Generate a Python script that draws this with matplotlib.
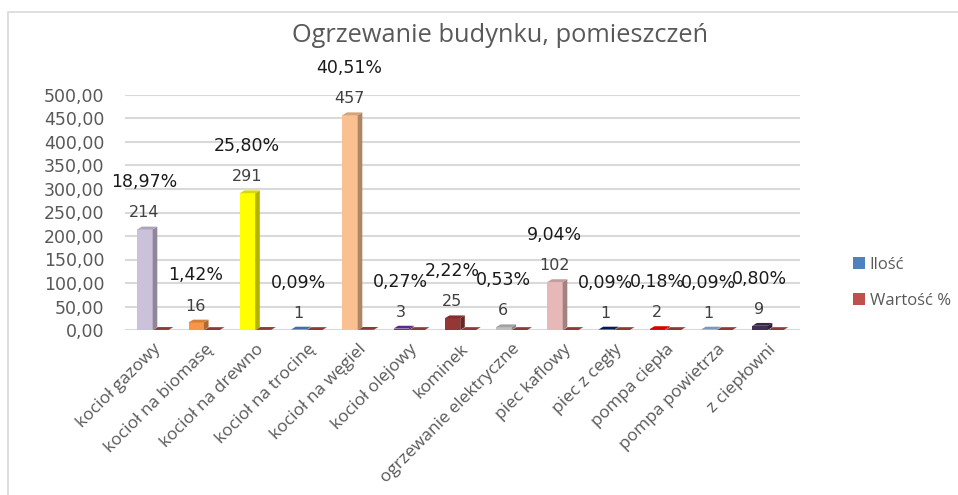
import matplotlib.pyplot as plt
from matplotlib.patches import Polygon, Rectangle
from matplotlib.colors import to_rgb

# categories and values
categories = ["kocioł gazowy", "kocioł na biomasę", "kocioł na drewno", "kocioł na trocinę",
              "kocioł na węgiel", "kocioł olejowy", "kominek", "ogrzewanie elektryczne",
              "piec kaflowy", "piec z cegły", "pompa ciepła", "pompa powietrza", "z ciepłowni"]
counts = [214, 16, 291, 1, 457, 3, 25, 6, 102, 1, 2, 1, 9]
percents = [18.97, 1.42, 25.80, 0.09, 40.51, 0.27, 2.22, 0.53, 9.04, 0.09, 0.18, 0.09, 0.80]
bar_colors = ["#CCC1DA", "#F79646", "#FFFF00", "#4F81BD", "#FAC090", "#7030A0", "#953735",
              "#BFBFBF", "#E6B9B8", "#002060", "#FF0000", "#95B3D7", "#403152"]
y_ticks = [0, 50, 100, 150, 200, 250, 300, 350, 400, 450, 500]

W, H = 958, 495
fig = plt.figure(figsize=(W / 100, H / 100), dpi=100)
ax = fig.add_axes([125 / W, 1 - 330 / H, 675 / W, 235 / H])

# chart frame
fig.patches.append(Rectangle((8 / W, -0.1), 1.2, 1 - 12 / H + 0.1, transform=fig.transFigure,
                             fill=False, edgecolor="#D9D9D9", lw=1.2))

gray = "#595959"
w = 0.3
dx, dy = 0.09, 6.0


def shade(c, f):
    r, g, b = to_rgb(c)
    return (r * f, g * f, b * f)


def bar3d(x, v, color):
    # front, side and top faces of a pseudo-3D column
    ax.add_patch(Rectangle((x - w / 2, 0), w, v, facecolor=color, edgecolor="none", zorder=3))
    ax.add_patch(Polygon([(x + w / 2, 0), (x + w / 2 + dx, dy), (x + w / 2 + dx, v + dy), (x + w / 2, v)],
                         facecolor=shade(color, 0.7), edgecolor="none", zorder=3))
    ax.add_patch(Polygon([(x - w / 2, v), (x - w / 2 + dx, v + dy), (x + w / 2 + dx, v + dy), (x + w / 2, v)],
                         facecolor=shade(color, 0.85), edgecolor="none", zorder=3))


for i, (c, p, col) in enumerate(zip(counts, percents, bar_colors)):
    bar3d(i - w / 2 - 0.01, c, col)
    bar3d(i + w / 2, p / 100, "#A8423F")
    ylab = c + 35
    ax.text(i - 0.17, ylab, str(c), ha="center", va="center", fontsize=11.5, color="#404040",
            family="DejaVu Sans")
    ax.text(i - 0.17, ylab + 65, f"{p:.2f}%".replace(".", ","), ha="center", va="center",
            fontsize=12.5, color="#1a1a1a", family="DejaVu Sans", clip_on=False)

for t in y_ticks:
    ax.axhline(t, color="#D9D9D9", lw=1.5, zorder=1)

ax.set_xlim(-0.55, 12.62)
ax.set_ylim(0, 500)
ax.set_yticks(y_ticks)
ax.set_yticklabels([f"{t},00" for t in y_ticks], fontsize=12.5, color=gray, family="DejaVu Sans")
ax.set_xticks(range(len(categories)))
ax.set_xticklabels(categories, rotation=45, ha="right", rotation_mode="anchor",
                   fontsize=12.5, color=gray, family="Open Sans")
ax.tick_params(axis="y", length=0, pad=15)
ax.tick_params(axis="x", length=0, pad=8)
for s in ax.spines.values():
    s.set_visible(False)

fig.text(500 / W, 1 - 35 / H, "Ogrzewanie budynku, pomieszczeń", ha="center", va="center",
         fontsize=18.3, color=gray, family="Open Sans")

# legend
ax.bar([0], [0], color="#4F81BD", label="Ilość")
ax.bar([0], [0], color="#C0504D", label="Wartość %")
leg = fig.legend(loc="center left", bbox_to_anchor=(838 / W, 1 - 283 / H), frameon=False,
                 handlelength=0.7, handleheight=0.7, handletextpad=0.3, labelspacing=1.2,
                 prop={"family": "Open Sans", "size": 12})
for t in leg.get_texts():
    t.set_color(gray)

fig.savefig("out.png", dpi=100)
